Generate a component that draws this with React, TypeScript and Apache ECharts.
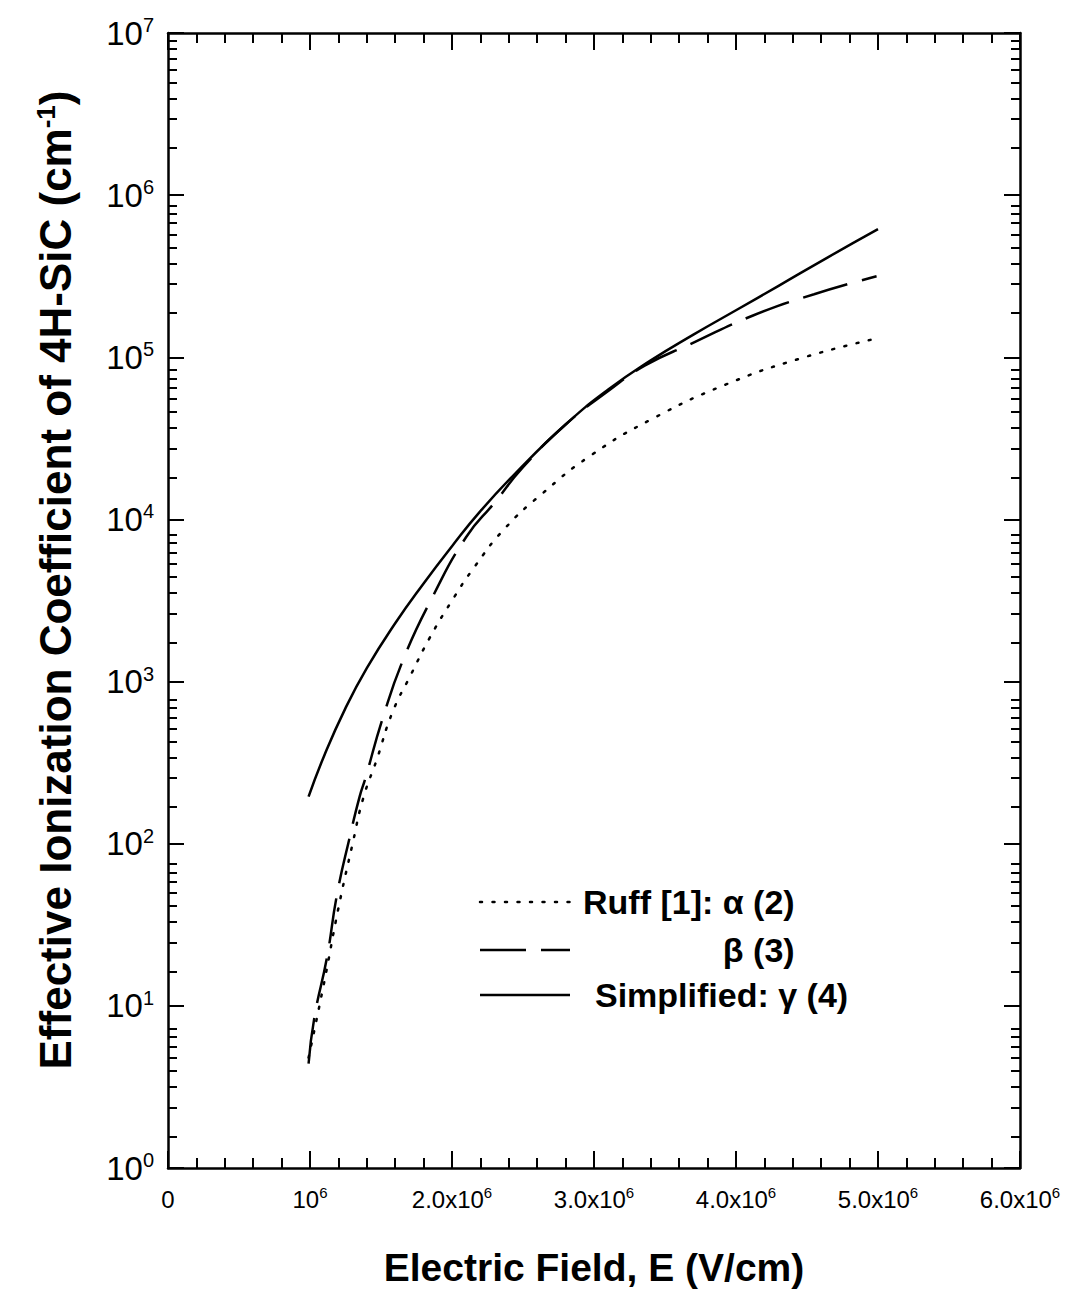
import React, { useEffect, useRef } from "react";
import * as echarts from "echarts";

// Electric field (V/cm) and effective ionization coefficient (1/cm) for 4H-SiC
const ALPHA_FIELD = [0.99e6, 1.1e6, 1.2e6, 1.3e6, 1.375e6, 1.47e6, 1.58e6, 1.71e6, 1.84e6, 1.99e6, 2.16e6, 2.37e6, 2.63e6, 2.98e6, 3.41e6, 3.93e6, 4.46e6, 4.99e6];
const ALPHA_VALUES = [4.8, 14, 40, 100, 191, 330, 644, 1100, 1840, 3060, 5120, 8750, 14300, 24900, 41700, 68000, 98800, 130600];

const BETA_FIELD = [0.99e6, 1.03e6, 1.12e6, 1.19e6, 1.28e6, 1.35e6, 1.39e6, 1.51e6, 1.66e6, 1.86e6, 2.1e6, 2.3e6, 2.5e6, 2.8e6, 3.1e6, 3.36e6, 3.69e6, 4.12e6, 4.55e6, 4.99e6];
const BETA_VALUES = [4.4, 8.4, 20, 48.5, 110, 196, 253, 586, 1390, 3290, 7790, 12700, 21000, 38500, 62000, 89000, 121900, 181000, 245000, 316000];

const GAMMA_FIELD = [0.99e6, 1.1e6, 1.25e6, 1.4e6, 1.6e6, 1.8e6, 2.0e6, 2.2e6, 2.45e6, 2.8e6, 3.1e6, 3.4e6, 3.7e6, 4.0e6, 4.3e6, 4.65e6, 5.0e6];
const GAMMA_VALUES = [195, 349, 686, 1210, 2290, 4030, 6840, 11250, 19400, 38500, 63200, 95700, 138000, 195000, 276000, 415000, 616600];

// Axis ranges and ticks
const X_MIN = 0;
const X_MAX = 6e6;
const X_STEP = 1e6;
const Y_MIN = 1;
const Y_MAX = 1e7;
const Y_MINOR_TICKS: number[] = [];
for (let d = 0; d < 7; d++) {
  for (let k = 2; k <= 9; k++) Y_MINOR_TICKS.push(k * Math.pow(10, d));
}

// Text
const X_TITLE = "Electric Field, E (V/cm)";
const Y_TITLE = "Effective Ionization Coefficient of 4H-SiC (cm{s|-1})";
const LEGEND_LABELS = ["Ruff [1]: α (2)", "β (3)", "Simplified: γ (4)"];

const FONT = "'Liberation Sans', Arial, sans-serif";
const BLACK = "#000";
const LEGEND_FONT_SIZE = 34;

const pairs = (xs: number[], ys: number[]) => xs.map((x, i) => [x, ys[i]]);

const xLabel = (v: number) => {
  const n = Math.round(v / 1e6);
  if (n === 0) return "{b|0}";
  if (n === 1) return "{b|10}{s|6}";
  return `{b|${n}.0x10}{s|6}`;
};

const yLabel = (v: number) => `{b|10}{s|${Math.round(Math.log10(v))}}`;

const measure = (text: string, font: string) => {
  const ctx = document.createElement("canvas").getContext("2d");
  if (!ctx) return text.length * 18;
  ctx.font = font;
  return ctx.measureText(text).width;
};

export default function App() {
  const ref = useRef<HTMLDivElement>(null);

  useEffect(() => {
    if (!ref.current) return;
    const chart = echarts.init(ref.current, undefined, { renderer: "svg" });

    const gridRect = { left: 168, right: 66, top: 33, bottom: 106 };
    const axisLine = { show: true, onZero: false, lineStyle: { color: BLACK, width: 2.5 } };
    const majorTick = { show: true, inside: true, length: 17, lineStyle: { color: BLACK, width: 2 } };
    const minorTickX = { show: true, splitNumber: 5, length: 10, lineStyle: { color: BLACK, width: 2 } };

    const xBase = {
      type: "value",
      gridIndex: 0,
      min: X_MIN,
      max: X_MAX,
      interval: X_STEP,
      axisLine,
      axisTick: majorTick,
      minorTick: minorTickX,
      splitLine: { show: false },
      minorSplitLine: { show: false },
    };

    const yMajor = (position: string, showLabel: boolean) => ({
      type: "log",
      gridIndex: 0,
      logBase: 10,
      min: Y_MIN,
      max: Y_MAX,
      position,
      axisLine,
      axisTick: { ...majorTick, length: 16 },
      splitLine: { show: false },
      axisLabel: showLabel
        ? {
            show: true,
            margin: 14,
            formatter: yLabel,
            rich: {
              b: { fontFamily: FONT, fontSize: 33, color: BLACK, lineHeight: 36 },
              s: { fontFamily: FONT, fontSize: 20, color: BLACK, verticalAlign: "top", lineHeight: 22 },
            },
          }
        : { show: false },
    });

    // Minor decade ticks (2..9 x 10^n) live on a twin grid so both sides get them
    const yMinor = (position: string) => ({
      type: "log",
      gridIndex: 1,
      logBase: 10,
      min: Y_MIN,
      max: Y_MAX,
      position,
      axisLine: { show: false },
      axisTick: {
        show: true,
        inside: true,
        length: 9,
        customValues: Y_MINOR_TICKS,
        lineStyle: { color: BLACK, width: 2 },
      },
      axisLabel: { show: false },
      splitLine: { show: false },
    });

    // Legend drawn as sample lines plus labels
    const legendFont = `bold ${LEGEND_FONT_SIZE}px 'Liberation Sans'`;
    const legendX0 = 480;
    const legendX1 = 570;
    const legendRows = [902, 950, 995];
    const legendStyles: any[] = [
      { lineDash: [2, 10.5], lineCap: "round", lineWidth: 2.5 },
      { lineDash: [46, 15], lineWidth: 2.5 },
      { lineWidth: 2.5 },
    ];
    const row1Left = 583;
    const row1Right = row1Left + measure(LEGEND_LABELS[0], legendFont);
    const legendTextX = [row1Left, row1Right, 595];
    const legendAlign = ["left", "right", "left"];

    const graphic: any[] = [];
    legendRows.forEach((y, i) => {
      graphic.push({
        type: "line",
        shape: { x1: legendX0, y1: y, x2: legendX1, y2: y },
        style: { stroke: BLACK, ...legendStyles[i] },
        silent: true,
      });
      graphic.push({
        type: "text",
        x: legendTextX[i],
        y,
        style: {
          text: LEGEND_LABELS[i],
          fontFamily: FONT,
          fontWeight: "bold",
          fontSize: LEGEND_FONT_SIZE,
          fill: BLACK,
          align: legendAlign[i],
          verticalAlign: "middle",
        },
        silent: true,
      });
    });

    // Vertical axis title
    graphic.push({
      type: "text",
      x: 55,
      y: 580,
      rotation: Math.PI / 2,
      style: {
        text: Y_TITLE,
        fontFamily: FONT,
        fontWeight: "bold",
        fontSize: 44,
        fill: BLACK,
        align: "center",
        verticalAlign: "middle",
        rich: {
          s: { fontFamily: FONT, fontWeight: "bold", fontSize: 26, fill: BLACK, verticalAlign: "top", lineHeight: 28 },
        },
      },
      silent: true,
    });

    chart.setOption({
      animation: false,
      backgroundColor: "#fff",
      grid: [gridRect, gridRect],
      xAxis: [
        {
          ...xBase,
          position: "bottom",
          name: X_TITLE,
          nameLocation: "middle",
          nameGap: 80,
          nameTextStyle: { fontFamily: FONT, fontWeight: "bold", fontSize: 39, color: BLACK },
          axisLabel: {
            show: true,
            margin: 17,
            formatter: xLabel,
            rich: {
              b: { fontFamily: FONT, fontSize: 24, color: BLACK, lineHeight: 28 },
              s: { fontFamily: FONT, fontSize: 15, color: BLACK, verticalAlign: "top", lineHeight: 17 },
            },
          },
        },
        { ...xBase, position: "top", axisLabel: { show: false } },
        { type: "value", gridIndex: 1, min: X_MIN, max: X_MAX, show: false },
      ],
      yAxis: [yMajor("left", true), yMajor("right", false), yMinor("left"), yMinor("right")],
      series: [
        {
          name: "alpha",
          type: "line",
          xAxisIndex: 0,
          yAxisIndex: 0,
          data: pairs(ALPHA_FIELD, ALPHA_VALUES),
          smooth: true,
          showSymbol: false,
          lineStyle: { color: BLACK, width: 2.5, type: [2, 10.5], cap: "round" },
        },
        {
          name: "beta",
          type: "line",
          xAxisIndex: 0,
          yAxisIndex: 0,
          data: pairs(BETA_FIELD, BETA_VALUES),
          smooth: true,
          showSymbol: false,
          lineStyle: { color: BLACK, width: 2.5, type: [46, 15] },
        },
        {
          name: "gamma",
          type: "line",
          xAxisIndex: 0,
          yAxisIndex: 0,
          data: pairs(GAMMA_FIELD, GAMMA_VALUES),
          smooth: true,
          showSymbol: false,
          lineStyle: { color: BLACK, width: 2.5 },
        },
      ],
      graphic,
    });

    return () => chart.dispose();
  }, []);

  return (
    <div
      ref={ref}
      style={{ position: "absolute", left: 0, top: 0, width: 1086, height: 1292, background: "#fff" }}
    />
  );
}
